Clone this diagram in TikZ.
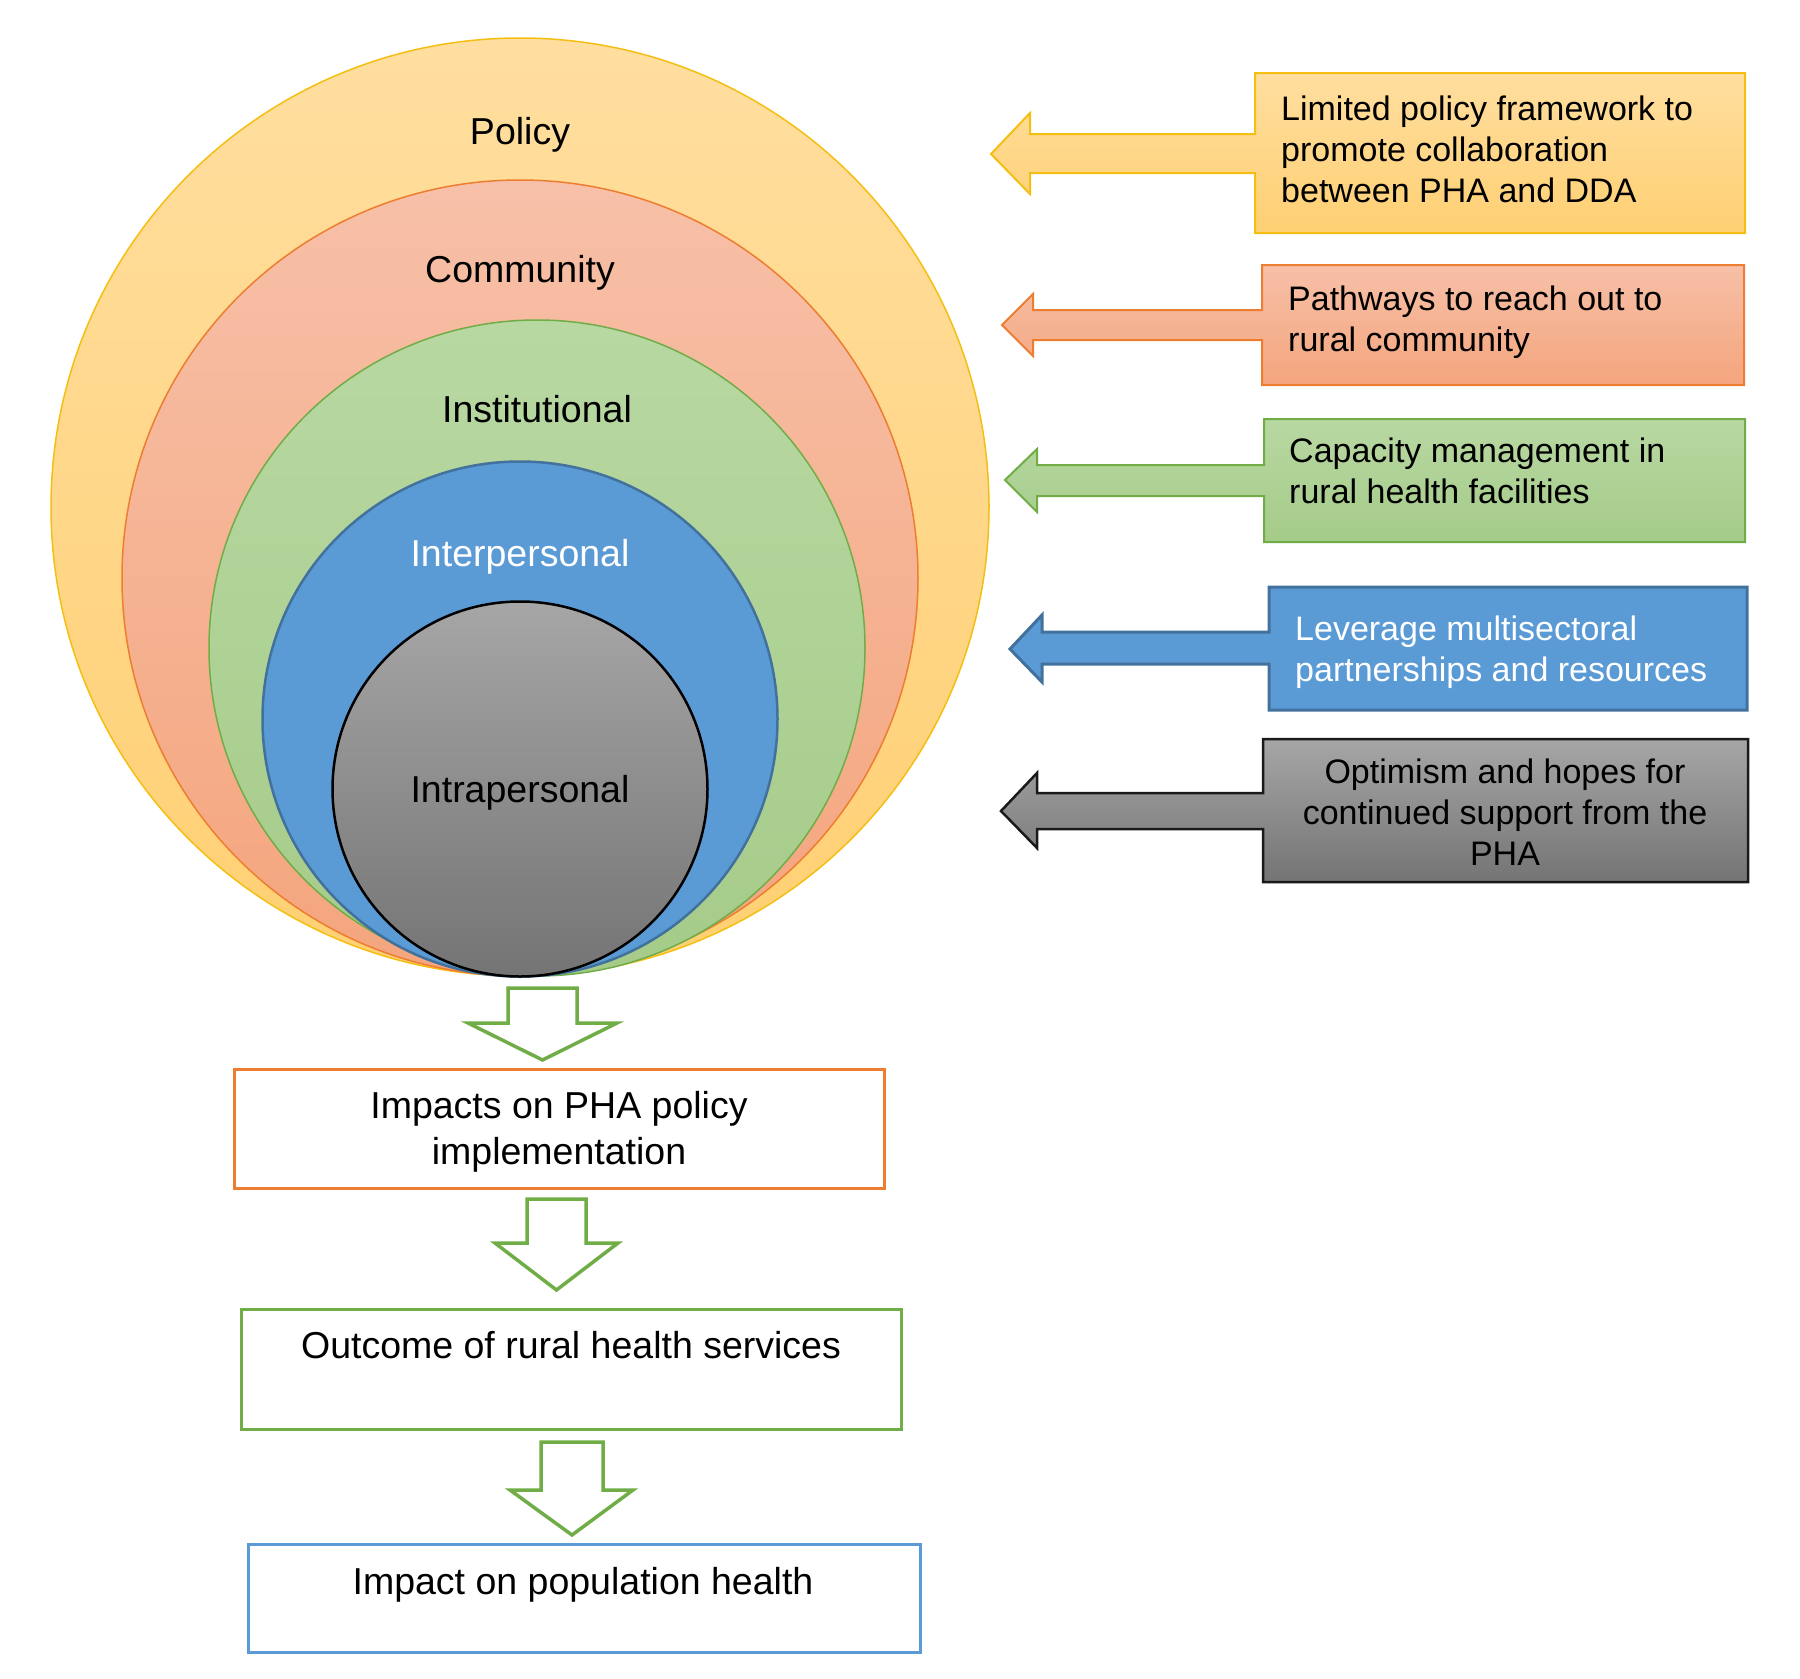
\documentclass[tikz,border=0pt]{standalone}
\usepackage{fontspec}
\setmainfont{Liberation Sans}
\definecolor{polT}{HTML}{FFDE9F}
\definecolor{polB}{HTML}{FFD073}
\definecolor{polD}{HTML}{F5BE12}
\definecolor{comT}{HTML}{F7C0A8}
\definecolor{comB}{HTML}{F4A57D}
\definecolor{comD}{HTML}{ED7D31}
\definecolor{insT}{HTML}{B8D8A2}
\definecolor{insB}{HTML}{A5CB89}
\definecolor{insD}{HTML}{70AD47}
\definecolor{intF}{HTML}{5B9BD5}
\definecolor{intD}{HTML}{41719C}
\definecolor{graT}{HTML}{A6A6A6}
\definecolor{graB}{HTML}{747474}
\definecolor{graD}{HTML}{1A1A1A}
\definecolor{cgreen}{HTML}{70AD47}
\definecolor{corange}{HTML}{ED7D31}
\definecolor{cblue}{HTML}{5B9BD5}
\begin{document}
\begin{tikzpicture}[x=1pt,y=-1pt,
  circ/.style={circle,inner sep=0pt,outer sep=0pt},
  lbl/.style={font=\fontsize{37.5}{46}\selectfont, inner sep=0pt, anchor=base},
  rtxt/.style={font=\fontsize{34}{41}\selectfont, inner sep=0pt},
  btxt/.style={font=\fontsize{37.5}{46}\selectfont, inner sep=0pt, align=center},
  downarrow/.style={draw=cgreen, line width=3.5pt, fill=white, line join=miter},
  flowbox/.style={line width=3pt, inner sep=0pt, fill=white},
  ]
\useasboundingbox (0,0) rectangle (1800,1679);

% nested circles
\node[circ, minimum size=938pt, top color=polT, bottom color=polB, draw=polD, line width=1.5pt] (policy) at (520,507) {};
\node[circ, minimum size=796pt, top color=comT, bottom color=comB, draw=comD, line width=1.5pt] (community) at (520,578) {};
\node[circ, minimum size=656pt, top color=insT, bottom color=insB, draw=insD, line width=1.5pt] (institutional) at (537,648) {};
\node[circ, minimum size=515pt, fill=intF, draw=intD, line width=2.5pt] (interpersonal) at (520,719) {};
\node[circ, minimum size=375pt, top color=graT, bottom color=graB, draw=black, line width=2.5pt] (intrapersonal) at (520,789) {};

\node[lbl] (lpolicy) at (520,144) {Policy};
\node[lbl] (lcommunity) at (520,282) {Community};
\node[lbl] (linstitutional) at (537,422) {Institutional};
\node[lbl, text=white] (linterpersonal) at (520,566) {Interpersonal};
\node[lbl] (lintrapersonal) at (520,802) {Intrapersonal};

% right callouts
\path[draw=polD, line width=2pt, top color=polT, bottom color=polB]
  (1255,73) -- (1745,73) -- (1745,233) -- (1255,233) -- (1255,173) -- (1030,173) -- (1030,194)
  -- (991,154) -- (1030,113) -- (1030,134) -- (1255,134) -- cycle;
\path[draw=comD, line width=2pt, top color=comT, bottom color=comB]
  (1262,265) -- (1744,265) -- (1744,385) -- (1262,385) -- (1262,340) -- (1033,340) -- (1033,356)
  -- (1002,325) -- (1033,294) -- (1033,310) -- (1262,310) -- cycle;
\path[draw=insD, line width=2pt, top color=insT, bottom color=insB]
  (1264,419) -- (1745,419) -- (1745,542) -- (1264,542) -- (1264,496) -- (1037,496) -- (1037,512)
  -- (1005,480) -- (1037,449) -- (1037,465) -- (1264,465) -- cycle;
\path[draw=intD, line width=3pt, fill=intF]
  (1269,587) -- (1747,587) -- (1747,710) -- (1269,710) -- (1269,664) -- (1042,664) -- (1042,682)
  -- (1010,649) -- (1042,615) -- (1042,632) -- (1269,632) -- cycle;
\path[draw=graD, line width=2.5pt, top color=graT, bottom color=graB]
  (1263,739) -- (1748,739) -- (1748,882) -- (1263,882) -- (1263,829) -- (1037,829) -- (1037,848)
  -- (1001,811) -- (1037,773) -- (1037,793) -- (1263,793) -- cycle;

\node[rtxt, anchor=west, align=left] (t1) at (1281,153) {\strut Limited policy framework to\\\strut promote collaboration\\\strut between PHA and DDA};
\node[rtxt, anchor=west, align=left] (t2) at (1288,323) {\strut Pathways to reach out to\\\strut rural community};
\node[rtxt, anchor=west, align=left] (t3) at (1289,475) {\strut Capacity management in\\\strut rural health facilities};
\node[rtxt, anchor=west, align=left, text=white] (t4) at (1295,653) {\strut Leverage multisectoral\\\strut partnerships and resources};
\node[rtxt, align=center] (t5) at (1505,816) {\strut Optimism and hopes for\\\strut continued support from the\\\strut PHA};

% flow boxes
\node[flowbox, draw=corange, minimum width=650pt, minimum height=119pt] (impacts) at (559,1128.5) {};
\node[flowbox, draw=cgreen, minimum width=660pt, minimum height=120pt] (outcome) at (571,1369) {};
\node[flowbox, draw=cblue, minimum width=672pt, minimum height=108pt] (population) at (584,1598) {};

\node[btxt] (timpacts) at (559,1132) {\strut Impacts on PHA policy\\\strut implementation};
\node[lbl] (toutcome) at (571,1358) {Outcome of rural health services};
\node[lbl] (tpopulation) at (583,1594) {Impact on population health};

% down arrows
\path[downarrow] (508,988) -- (577,988) -- (577,1023) -- (617,1023) -- (542.5,1060) -- (468,1023) -- (508,1023) -- cycle;
\path[downarrow] (527,1199) -- (586,1199) -- (586,1243) -- (618,1243) -- (556.5,1290) -- (495,1243) -- (527,1243) -- cycle;
\path[downarrow] (541,1442) -- (603,1442) -- (603,1490) -- (633,1490) -- (572,1535) -- (510,1490) -- (541,1490) -- cycle;
\end{tikzpicture}
\end{document}
